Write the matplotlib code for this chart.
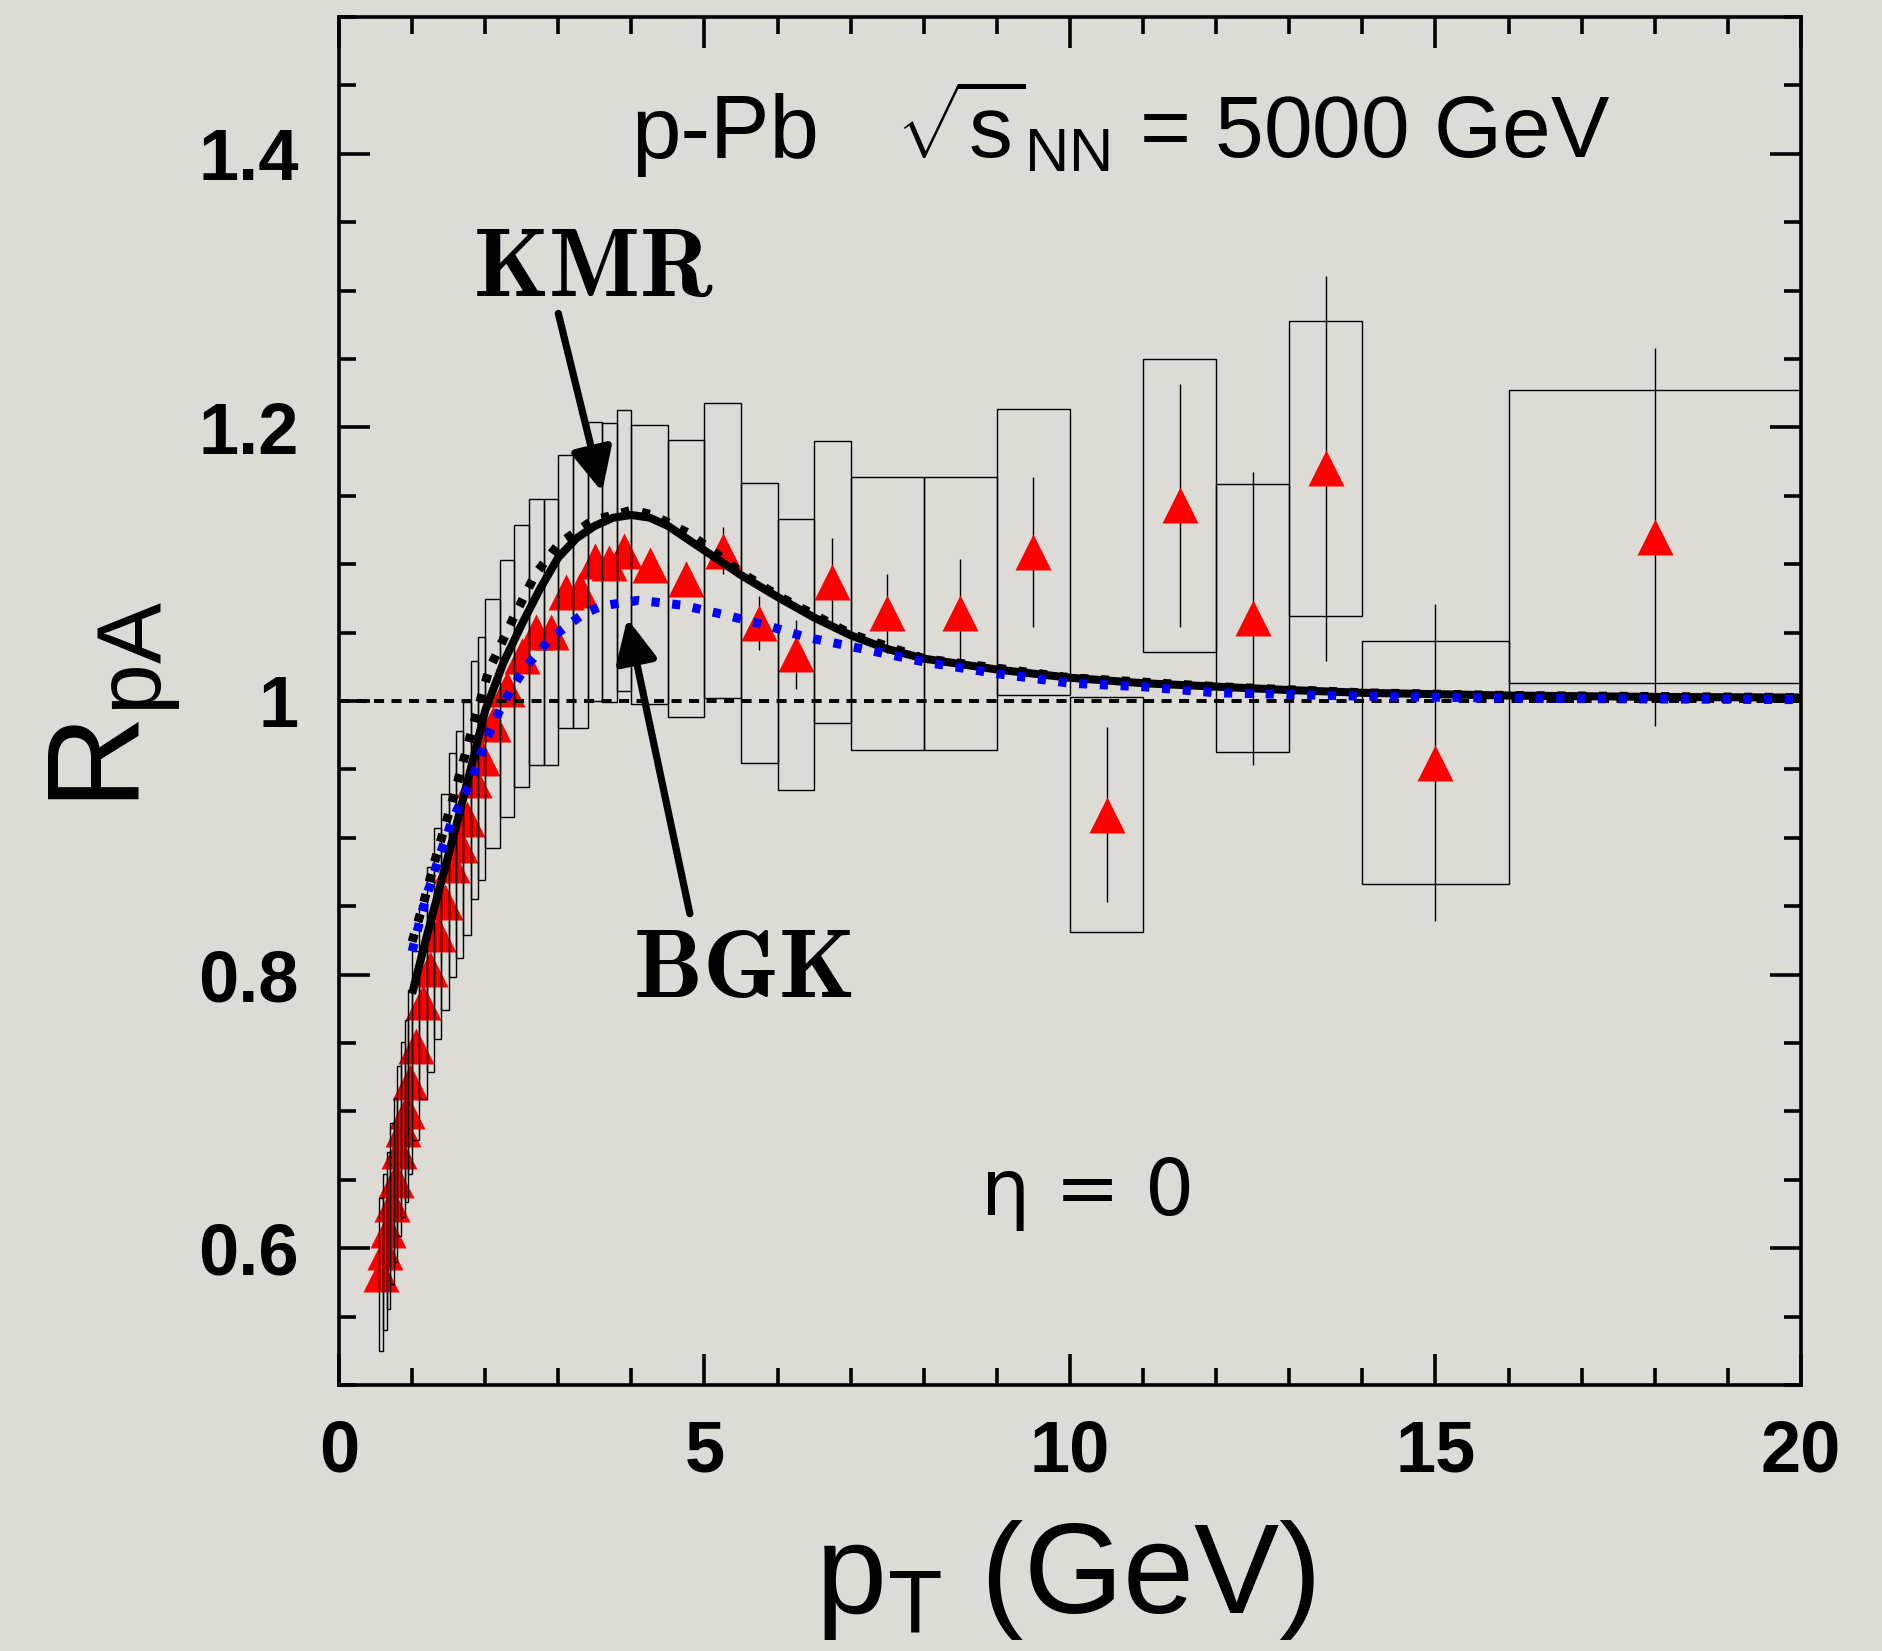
import matplotlib
matplotlib.use("Agg")
import matplotlib.pyplot as plt
import numpy as np
from matplotlib.ticker import MultipleLocator, FixedLocator, FixedFormatter

# ---------------- data ----------------
bin_lo = [0.55, 0.60, 0.65, 0.70, 0.75, 0.80, 0.85, 0.90, 0.95,
          1.0, 1.1, 1.2, 1.3, 1.4, 1.5, 1.6, 1.7, 1.8, 1.9,
          2.0, 2.2, 2.4, 2.6, 2.8, 3.0, 3.2, 3.4, 3.6, 3.8,
          4.0, 4.5, 5.0, 5.5, 6.0, 6.5, 7.0, 8.0, 9.0, 10.0, 11.0, 12.0, 13.0, 14.0, 16.0]
bin_hi = [0.60, 0.65, 0.70, 0.75, 0.80, 0.85, 0.90, 0.95, 1.0,
          1.1, 1.2, 1.3, 1.4, 1.5, 1.6, 1.7, 1.8, 1.9, 2.0,
          2.2, 2.4, 2.6, 2.8, 3.0, 3.2, 3.4, 3.6, 3.8, 4.0,
          4.5, 5.0, 5.5, 6.0, 6.5, 7.0, 8.0, 9.0, 10.0, 11.0, 12.0, 13.0, 14.0, 16.0, 20.0]
rpa = [0.581, 0.597, 0.613, 0.6325, 0.650, 0.671, 0.687, 0.700, 0.7215,
       0.748, 0.780, 0.804, 0.830, 0.853, 0.880, 0.895, 0.914, 0.942, 0.958,
       0.9835, 1.009, 1.033, 1.0505, 1.0505, 1.080, 1.081, 1.102, 1.101, 1.110,
       1.0995, 1.0895, 1.110, 1.057, 1.034, 1.087, 1.064, 1.064, 1.109, 0.917,
       1.143, 1.0605, 1.170, 0.955, 1.120]
stat_err = [0.004, 0.004, 0.004, 0.004, 0.004, 0.004, 0.004, 0.004, 0.004,
            0.004, 0.004, 0.004, 0.004, 0.004, 0.004, 0.004, 0.004, 0.004, 0.004,
            0.005, 0.005, 0.005, 0.005, 0.005, 0.006, 0.006, 0.006, 0.007, 0.007,
            0.008, 0.012, 0.017, 0.020, 0.025, 0.032, 0.029, 0.040, 0.055, 0.064,
            0.089, 0.107, 0.141, 0.116, 0.138]
syst_err = [0.056, 0.057, 0.0575, 0.059, 0.060, 0.062, 0.064, 0.0665, 0.0675,
            0.069, 0.071, 0.075, 0.077, 0.079, 0.082, 0.083, 0.085, 0.087, 0.089,
            0.091, 0.094, 0.096, 0.097, 0.097, 0.100, 0.1005, 0.102, 0.102, 0.103,
            0.102, 0.101, 0.108, 0.102, 0.099, 0.103, 0.100, 0.100, 0.1045, 0.086,
            0.107, 0.098, 0.108, 0.089, 0.107]

kmr_pt = [1.0, 1.2, 1.4, 1.6, 1.8, 2.0, 2.25, 2.5, 2.75, 3.0, 3.25, 3.5, 3.75, 4.0,
          4.25, 4.5, 5.0, 5.5, 6.0, 6.5, 7.0, 7.5, 8.0, 9.0, 10.0, 11.0, 12.0, 13.0,
          14.0, 16.0, 18.0, 20.0]
kmr_r = [0.786, 0.828, 0.868, 0.908, 0.950, 0.993, 1.028, 1.056, 1.082, 1.105, 1.119,
         1.128, 1.134, 1.136, 1.134, 1.128, 1.110, 1.092, 1.076, 1.061, 1.048, 1.038,
         1.031, 1.023, 1.017, 1.013, 1.0105, 1.008, 1.006, 1.004, 1.003, 1.0025]

kmr2_pt = [1.0, 1.16, 1.3, 1.55, 1.83, 2.05, 2.37, 2.69, 3.01, 3.47, 4.01, 4.29, 4.79,
           5.5, 6.0, 7.0, 8.0, 10.0, 12.0, 14.0, 16.0, 20.0]
kmr2_r = [0.824, 0.853, 0.881, 0.927, 0.981, 1.0225, 1.059, 1.093, 1.115, 1.132, 1.1395,
          1.136, 1.1224, 1.094, 1.077, 1.049, 1.031, 1.017, 1.0105, 1.006, 1.004, 1.0025]

bgk_pt = [1.0, 1.1, 1.2, 1.3, 1.37, 1.55, 1.82, 2.0, 2.24, 2.54, 2.9, 3.35, 3.6, 4.1,
          4.7, 5.3, 5.84, 6.38, 6.9, 8.0, 9.0, 10.0, 11.0, 12.0, 13.0, 14.0, 16.0, 18.0, 20.0]
bgk_r = [0.817, 0.838, 0.858, 0.874, 0.886, 0.913, 0.943, 0.970, 0.998, 1.024, 1.046,
         1.064, 1.0695, 1.0736, 1.070, 1.0627, 1.0554, 1.0468, 1.041, 1.0286, 1.020,
         1.013, 1.0104, 1.006, 1.0048, 1.0035, 1.002, 1.0015, 1.001]

x_ticks = [0, 5, 10, 15, 20]
x_ticklabels = ["0", "5", "10", "15", "20"]
y_ticks = [0.6, 0.8, 1.0, 1.2, 1.4]
y_ticklabels = ["0.6", "0.8", "1", "1.2", "1.4"]

# ---------------- style ----------------
BG = "#dddbd6"
plt.rcParams["font.family"] = ["Liberation Sans", "DejaVu Sans"]
plt.rcParams["mathtext.fontset"] = "custom"
plt.rcParams["mathtext.rm"] = "Liberation Sans"
plt.rcParams["mathtext.it"] = "Liberation Sans:italic"
plt.rcParams["mathtext.bf"] = "Liberation Sans:bold"

fig = plt.figure(figsize=(18.83, 16.51), dpi=100, facecolor=BG)
ax = fig.add_axes([0.18003, 0.16112, 0.77642, 0.82858])
ax.set_facecolor(BG)

lo = np.array(bin_lo)
hi = np.array(bin_hi)
xc = 0.5 * (lo + hi)
r = np.array(rpa)
se = np.array(syst_err)

# stat error bars (beneath markers)
ax.errorbar(xc, r, yerr=stat_err, fmt="none", ecolor="black", elinewidth=1.0,
            capsize=0, zorder=2)
# markers
ax.plot(xc, r, linestyle="none", marker="^", ms=26.5, color="red", mec="none", zorder=3)
# systematic boxes
ax.bar(xc, 2 * se, bottom=r - se, width=hi - lo, fill=False, edgecolor="black",
       linewidth=1.0, zorder=4)

# unity reference
ax.axhline(1.0, color="black", lw=2.8, linestyle=(0, (2.6, 1.9)), zorder=5)

# curves
ax.plot(kmr2_pt, kmr2_r, color="black", lw=6.5, linestyle=(0, (0.9, 1.4)),
        dash_capstyle="butt", zorder=6)
ax.plot(kmr_pt, kmr_r, color="black", lw=5.8, solid_capstyle="butt", zorder=7)
ax.plot(bgk_pt, bgk_r, color="#0000ff", lw=6.5, linestyle=(0, (0.9, 1.4)),
        dash_capstyle="butt", zorder=8)

# arrows and labels
arrow_kw = dict(arrowstyle="-|>,head_length=1.3,head_width=0.62", lw=5.2, color="black",
                shrinkA=0, shrinkB=0, mutation_scale=20)
ax.annotate("", xy=(3.60, 1.1528), xytext=(3.0, 1.2833), arrowprops=arrow_kw, zorder=9)
ax.annotate("", xy=(3.944, 1.0603), xytext=(4.80, 0.8445), arrowprops=arrow_kw, zorder=9)

ax.text(3.48, 1.3144, r"$\mathbf{KMR}$", math_fontfamily="cm", fontsize=69,
        ha="center", va="center", zorder=10)
ax.text(5.52, 0.8018, r"$\mathbf{BGK}$", math_fontfamily="cm", fontsize=70,
        ha="center", va="center", zorder=10)
ax.text(8.78, 0.624, "η = 0", fontsize=56, family=["DejaVu Sans"],
        ha="left", va="baseline", zorder=10)

ax.text(4.0, 1.397, "p-Pb", fontsize=64, ha="left", va="baseline", zorder=10)
ax.text(7.62, 1.397, r"$\sqrt{\mathrm{s}}_{\mathrm{NN}}$ = 5000 GeV", fontsize=63,
        ha="left", va="baseline", zorder=10)

ax.text(0.497, -0.1667, r"p$_{\mathrm{T}}$ (GeV)", fontsize=92, ha="center",
        va="baseline", transform=ax.transAxes)
ax.text(-0.1530, 0.497, r"R$_{\mathrm{pA}}$", fontsize=94, ha="center", va="center",
        rotation=90, transform=ax.transAxes)

# axes
ax.set_xlim(0, 20)
ax.set_ylim(0.5, 1.5)
ax.xaxis.set_major_locator(FixedLocator(x_ticks))
ax.xaxis.set_major_formatter(FixedFormatter(x_ticklabels))
ax.xaxis.set_minor_locator(MultipleLocator(1))
ax.yaxis.set_major_locator(FixedLocator(y_ticks))
ax.yaxis.set_major_formatter(FixedFormatter(y_ticklabels))
ax.yaxis.set_minor_locator(MultipleLocator(0.05))
ax.tick_params(which="both", direction="in", top=True, right=True, width=2.6,
               color="black")
ax.tick_params(which="major", length=22)
ax.tick_params(which="minor", length=12)
ax.tick_params(axis="x", which="major", pad=24, labelsize=52)
ax.tick_params(axis="y", which="major", pad=29, labelsize=52)
for lab in ax.get_xticklabels() + ax.get_yticklabels():
    lab.set_fontweight("bold")
for s in ax.spines.values():
    s.set_linewidth(2.6)
    s.set_zorder(11)

fig.savefig("out.png", dpi=100, facecolor=BG)
